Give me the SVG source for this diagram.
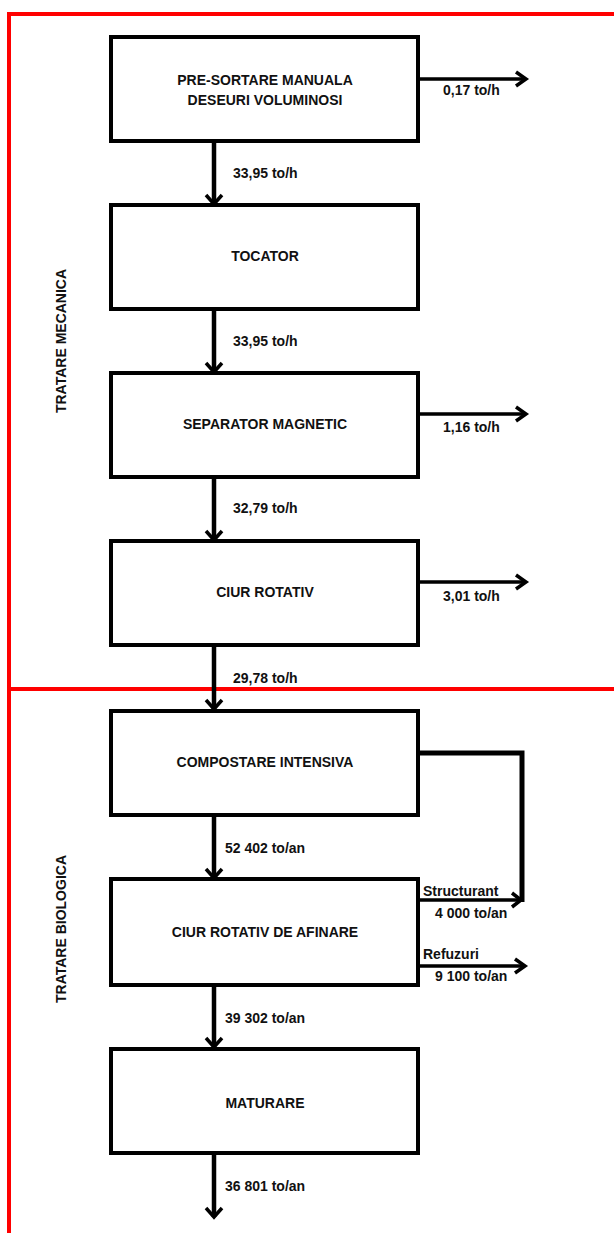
<svg xmlns="http://www.w3.org/2000/svg" width="614" height="1233" viewBox="0 0 614 1233">
<style>
text{font-family:"Liberation Sans",Arial,sans-serif;font-weight:bold;font-size:14px;fill:#111}
.c{text-anchor:middle}
.box{fill:#fff;stroke:#000;stroke-width:4}
.red{stroke:#f00;stroke-width:4;fill:none}
.ln{stroke:#000;stroke-width:4.5;fill:none}
.sl{stroke:#000;stroke-width:3.5;fill:none}
.hd{stroke:#000;stroke-width:3.5;fill:none;stroke-linejoin:miter}
.lp{stroke:#000;stroke-width:5;fill:none;stroke-linejoin:miter}
</style>
<g id="frame">
<path class="red" d="M7 14H614M9 12V1233M9 689H614"/>
<text transform="translate(66,341) rotate(-90)" class="c">TRATARE MECANICA</text>
<text transform="translate(66,929) rotate(-90)" class="c">TRATARE BIOLOGICA</text>
</g>
<g id="connectors">
<path class="ln" d="M214 143V204M214 311V372M214 479V540M214 647V709M214 817V878M214 987V1047M214 1155V1217"/>
<path class="hd" d="M206 195L214 204L222 195M206 363L214 372L222 363M206 531L214 540L222 531M206 700L214 709L222 700M206 869L214 878L222 869M206 1038L214 1047L222 1038M206 1208L214 1217L222 1208"/>
<path class="sl" d="M420 79H526M420 414H526M420 582H526M420 900H520M420 966H525"/>
<path class="hd" d="M516 72L526 79L516 86M516 407L526 414L516 421M516 575L526 582L516 589M512 893L521 900L512 907M515 959L525 966L515 973"/>
<path class="lp" d="M420 753H522V902"/>
<text x="443" y="95">0,17 to/h</text>
<text x="233" y="178">33,95 to/h</text>
<text x="233" y="346">33,95 to/h</text>
<text x="443" y="432">1,16 to/h</text>
<text x="233" y="513">32,79 to/h</text>
<text x="443" y="601">3,01 to/h</text>
<text x="233" y="683">29,78 to/h</text>
<text x="225" y="853">52 402 to/an</text>
<text x="423" y="896">Structurant</text>
<text x="435" y="918">4 000 to/an</text>
<text x="423" y="959">Refuzuri</text>
<text x="435" y="981">9 100 to/an</text>
<text x="225" y="1023">39 302 to/an</text>
<text x="225" y="1191">36 801 to/an</text>
</g>
<g id="n1"><rect class="box" x="111" y="37" width="307" height="104"/><text class="c" x="265" y="85">PRE-SORTARE MANUALA</text><text class="c" x="265" y="105">DESEURI VOLUMINOSI</text></g>
<g id="n2"><rect class="box" x="111" y="205" width="307" height="104"/><text class="c" x="265" y="261">TOCATOR</text></g>
<g id="n3"><rect class="box" x="111" y="373" width="307" height="104"/><text class="c" x="265" y="429">SEPARATOR MAGNETIC</text></g>
<g id="n4"><rect class="box" x="111" y="541" width="307" height="104"/><text class="c" x="265" y="597">CIUR ROTATIV</text></g>
<g id="n5"><rect class="box" x="111" y="711" width="307" height="104"/><text class="c" x="265" y="767">COMPOSTARE INTENSIVA</text></g>
<g id="n6"><rect class="box" x="111" y="879" width="307" height="106"/><text class="c" x="265" y="937">CIUR ROTATIV DE AFINARE</text></g>
<g id="n7"><rect class="box" x="111" y="1049" width="307" height="104"/><text class="c" x="265" y="1108">MATURARE</text></g>
</svg>
